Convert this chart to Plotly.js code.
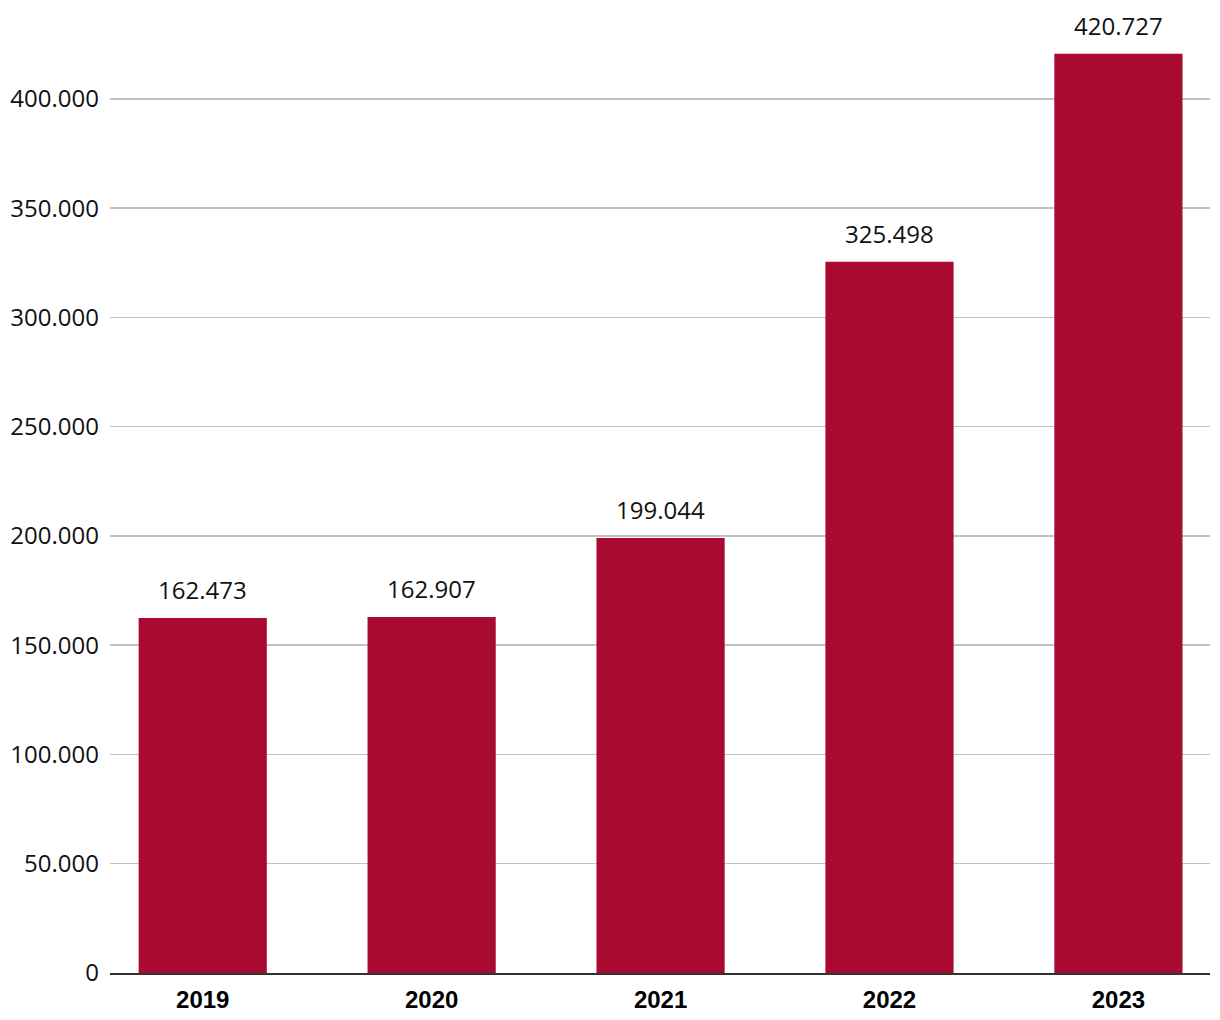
<!DOCTYPE html>
<html>
<head>
<meta charset="utf-8">
<script src="https://cdn.plot.ly/plotly-3.0.1.min.js"></script>
<style>html,body{margin:0;padding:0;background:#fff;}</style>
</head>
<body>
<div id="chart" style="width:1220px;height:1020px;"></div>
<script>
const years = ['2019', '2020', '2021', '2022', '2023'];
const values = [162473, 162907, 199044, 325498, 420727];
const labels = ['162.473', '162.907', '199.044', '325.498', '420.727'];
const tickVals = [0, 50000, 100000, 150000, 200000, 250000, 300000, 350000, 400000];
const tickText = ['0', '50.000', '100.000', '150.000', '200.000', '250.000', '300.000', '350.000', '400.000'];

const barColor = '#A80B2F';

const trace = {
  type: 'bar',
  x: years,
  y: values,
  marker: {color: barColor},
  hoverinfo: 'none'
};

const annotations = years.map((yr, i) => ({
  x: i, y: values[i], text: labels[i],
  xref: 'x', yref: 'y',
  showarrow: false, yanchor: 'bottom', yshift: 10,
  font: {family: 'Open Sans', size: 24, color: '#111'}
}));

const layout = {
  width: 1220, height: 1020,
  margin: {l: 110, r: 10, t: 10, b: 47},
  paper_bgcolor: '#fff', plot_bgcolor: '#fff',
  showlegend: false,
  bargap: 0.44,
  xaxis: {
    type: 'category',
    range: [-0.405, 4.4],
    showgrid: false,
    showline: true, linecolor: '#333', linewidth: 2,
    ticks: '', zeroline: false,
    tickfont: {family: 'Liberation Sans', size: 24, color: '#000', weight: 'bold'},
    ticklabelstandoff: 4
  },
  yaxis: {
    range: [0, 440700],
    tickvals: tickVals, ticktext: tickText,
    showgrid: true, gridcolor: '#c2c2c2', gridwidth: 1.5,
    zeroline: false, showline: false, ticks: '',
    tickfont: {family: 'Open Sans', size: 24, color: '#111'},
    ticklabelstandoff: 10
  },
  annotations: annotations
};

Plotly.newPlot('chart', [trace], layout, {displayModeBar: false, staticPlot: true});
</script>
</body>
</html>
